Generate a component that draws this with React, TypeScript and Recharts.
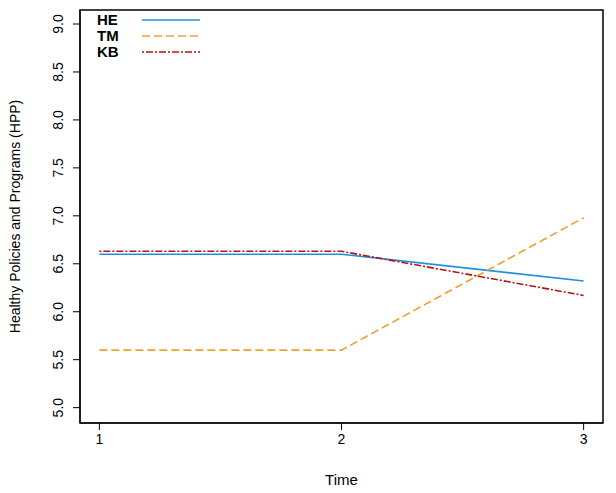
import { LineChart, Line, XAxis, YAxis, ReferenceArea, Label } from 'recharts'

const times = [1, 2, 3]
const he = [6.6, 6.6, 6.32]
const tm = [5.6, 5.6, 6.98]
const kb = [6.63, 6.63, 6.17]
const yTicks = [5, 5.5, 6, 6.5, 7, 7.5, 8, 8.5, 9]

const data = times.map((t, i) => ({ t, HE: he[i], TM: tm[i], KB: kb[i] }))

const font = '"Liberation Sans", Arial, sans-serif'

const series = [
  { key: 'HE', color: '#1f8fe0', dash: undefined },
  { key: 'TM', color: '#f2a12e', dash: '8 4' },
  { key: 'KB', color: '#b5121b', dash: '2 2 7 2' },
]

function YTick({ x, y, payload }: any) {
  return (
    <text x={x - 8} y={y} transform={`rotate(-90 ${x - 8} ${y})`} textAnchor="middle" fontSize={14} fill="#000" fontFamily={font}>
      {payload.value.toFixed(1)}
    </text>
  )
}

export default function App() {
  return (
    <div style={{ position: 'absolute', left: 0, top: 0, width: 616, height: 493, background: '#fff' }}>
      <LineChart width={616} height={493} data={data} margin={{ top: 10, right: 13, bottom: 0, left: 0 }}>
        <XAxis
          type="number"
          dataKey="t"
          domain={[0.92, 3.08]}
          ticks={times}
          height={70}
          tickSize={7}
          stroke="#000"
          tick={{ fill: '#000', fontSize: 14, fontFamily: font }}
          tickMargin={4}
        >
          <Label value="Time" position="insideBottom" offset={8} style={{ fontSize: 15, fontFamily: font, fill: '#000' }} />
        </XAxis>
        <YAxis
          type="number"
          domain={[4.84, 9.146]}
          ticks={yTicks}
          width={80}
          tickSize={7}
          stroke="#000"
          allowDataOverflow
          tick={<YTick />}
        >
          <Label
            value="Healthy Policies and Programs (HPP)"
            angle={-90}
            position="insideLeft"
            offset={15}
            style={{ textAnchor: 'middle', fontSize: 14, fontFamily: font, fill: '#000' }}
          />
        </YAxis>
        <ReferenceArea x1={0.92} x2={3.08} y1={4.84} y2={9.146} fill="none" stroke="#000" strokeWidth={1.5} ifOverflow="visible" />
        {series.map((s) => (
          <Line
            key={s.key}
            dataKey={s.key}
            stroke={s.color}
            strokeWidth={1.6}
            strokeDasharray={s.dash}
            dot={false}
            isAnimationActive={false}
          />
        ))}
      </LineChart>
      <svg style={{ position: 'absolute', left: 90, top: 12 }} width={130} height={50}>
        {series.map((s, i) => (
          <g key={s.key}>
            <text x={7} y={13 + i * 16} fontSize={15} fontWeight="bold" fontFamily={font}>{s.key}</text>
            <line x1={52} x2={110} y1={8 + i * 16} y2={8 + i * 16} stroke={s.color} strokeWidth={1.6} strokeDasharray={s.dash} />
          </g>
        ))}
      </svg>
    </div>
  )
}
